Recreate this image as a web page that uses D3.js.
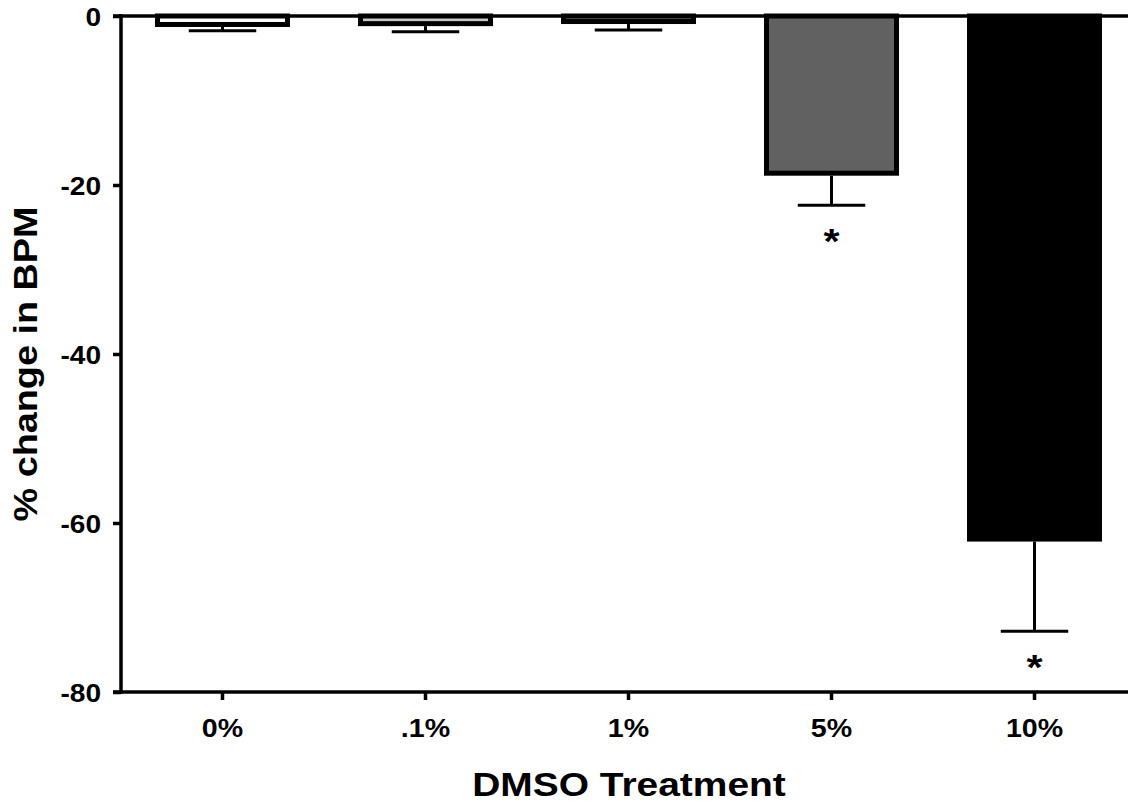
<!DOCTYPE html>
<html><head><meta charset="utf-8">
<script src="https://cdn.jsdelivr.net/npm/d3@7"></script>
<style>body{margin:0;background:#fff}svg{display:block}text{font-family:"Liberation Sans",Arial,sans-serif;font-weight:bold}</style>
</head><body><svg id="c" width="1128" height="805"></svg>
<script>
const categories = ["0%", ".1%", "1%", "5%", "10%"];
const means = [-1.3, -1.2, -0.95, -18.9, -62.2];
const errors = [0.45, 0.65, 0.7, 3.5, 10.6];
const significant = [false, false, false, true, true];
const fills = ["#ffffff", "#c8c8c8", "#8c8c8c", "#616161", "#000000"];
const yTicks = [0, -20, -40, -60, -80];

const svg = d3.select("#c");
const x = d3.scaleBand().domain(categories).range([121, 1136]).paddingInner(0.335).paddingOuter(0.1675);
const y = d3.scaleLinear().domain([0, -80]).range([16, 692]);

const bw = 5;
svg.selectAll("rect.bar").data(categories).enter().append("rect")
  .attr("x", d => x(d) + bw/2)
  .attr("y", y(0))
  .attr("width", x.bandwidth() - bw)
  .attr("height", (d,i) => Math.max(0, y(means[i]) - y(0) - bw/2))
  .attr("fill", (d,i) => fills[i])
  .attr("stroke", "#000").attr("stroke-width", bw);

const cap = x.bandwidth() * 0.5;
categories.forEach((c,i) => {
  const cx = x(c) + x.bandwidth()/2;
  const y0 = y(means[i]), y1 = y(means[i] - errors[i]);
  svg.append("line").attr("x1", cx).attr("x2", cx).attr("y1", y0).attr("y2", y1)
    .attr("stroke", "#000").attr("stroke-width", 3);
  svg.append("line").attr("x1", cx - cap/2).attr("x2", cx + cap/2).attr("y1", y1).attr("y2", y1)
    .attr("stroke", "#000").attr("stroke-width", 3);
  if (significant[i]) {
    svg.append("text").attr("x", 0).attr("y", 0).attr("text-anchor", "middle")
      .attr("transform", `translate(${cx},${y1 + 48}) scale(1.15,1)`)
      .attr("font-size", 36).text("*");
  }
});

const fmt = d => String(d);
const yAxis = svg.append("g").attr("transform", "translate(121,0)")
  .call(d3.axisLeft(y).tickValues(yTicks).tickSize(8).tickPadding(12).tickFormat(fmt));
yAxis.select(".domain").attr("stroke-width", 3.5).attr("d", "M-8,16H0V692H-8");
yAxis.selectAll(".tick line").attr("stroke-width", 3.5);
yAxis.selectAll(".tick text").attr("font-size", 26).attr("fill", "#000").attr("dy", "0.36em")
  .attr("x", 0).attr("transform", "translate(-20,0) scale(1.08,1)");

svg.append("line").attr("x1", 119).attr("x2", 1128).attr("y1", y(0)).attr("y2", y(0))
  .attr("stroke", "#000").attr("stroke-width", 3.5);

const xAxis = svg.append("g").attr("transform", "translate(0,692)")
  .call(d3.axisBottom(x).tickSize(8).tickPadding(0));
xAxis.select(".domain").attr("stroke-width", 3.5).attr("d", "M119,0H1128");
xAxis.selectAll(".tick line").attr("stroke-width", 3.5);
xAxis.selectAll(".tick text").attr("font-size", 26).attr("fill", "#000")
  .attr("dy", null).attr("y", 0).attr("transform", "translate(0,45) scale(1.1,1)");

svg.append("text").attr("x", 0).attr("y", 0).attr("text-anchor", "middle")
  .attr("transform", "translate(629,796) scale(1.18,1)")
  .attr("font-size", 33).text("DMSO Treatment");
svg.append("text").attr("x", 0).attr("y", 0).attr("text-anchor", "middle")
  .attr("transform", "translate(37,364) rotate(-90) scale(1.145,1)")
  .attr("font-size", 33).text("% change in BPM");
</script></body></html>
